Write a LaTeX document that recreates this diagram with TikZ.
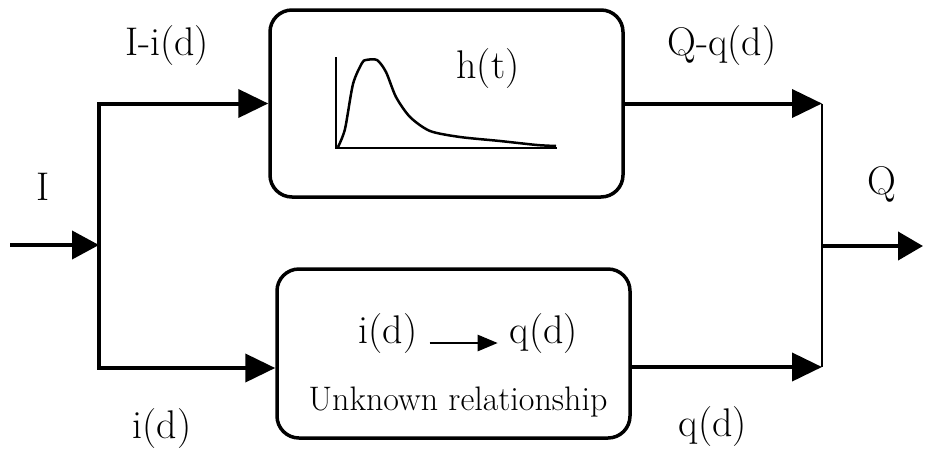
\documentclass[tikz,border=0pt]{standalone}
\usetikzlibrary{arrows.meta}
\begin{document}
\begin{tikzpicture}[x=1pt,y=-1pt,
  lbl/.style={font=\fontsize{40}{44}\selectfont, inner sep=0pt, anchor=base},
  blk/.style={draw, line width=3.5pt, rounded corners=22pt},
  wire/.style={line width=4pt, -{Triangle[length=30pt,width=28pt]}},
  thinwire/.style={line width=2pt},
  curve/.style={line width=2.5pt, line join=round}]
\useasboundingbox (0,0) rectangle (925,456);

% blocks
\node[blk, minimum width=353pt, minimum height=187pt] (hbox) at (446.5,103.5) {};
\node[blk, minimum width=353pt, minimum height=169pt] (ubox) at (453.5,353.5) {};

% coordinates for free ends / junctions
\coordinate (in) at (10,245);
\coordinate (j1) at (99,245);
\coordinate (j2) at (822,246);
\coordinate (out) at (923,246);
\coordinate (ubin) at ([yshift=-14.5pt]ubox.west);
\coordinate (ubout) at ([yshift=-13.5pt]ubox.east);

% input
\draw[wire, -{Triangle[length=27pt,width=28pt]}] (in) -- (j1);
\draw[wire] (j1) |- (hbox.west);
\draw[wire] (j1) |- (ubin);

% outputs
\draw[wire] (hbox.east) -- (hbox.east -| j2);
\draw[wire] (ubout) -- (ubout -| j2);
\draw[thinwire] (hbox.east -| j2) -- (ubout -| j2);
\draw[wire, -{Triangle[length=25pt,width=28pt]}] (j2) -- (out);

% unit hydrograph plot
\draw[line width=2pt] (336,57) -- (336,148) -- (557,148);
\draw[curve] plot[smooth, tension=0.45] coordinates {(338,147) (345,129) (353,84) (362,63) (366,60) (377,60) (386,72) (396,97) (410,117) (430,131) (460,137) (500,141) (537,145) (556,146)};

% labels
\node[lbl] (l1) at (167,55) {I-i(d)};
\node[lbl] (l2) at (722,55) {Q-q(d)};
\node[lbl] (ht) at (488,78) {h(t)};
\node[lbl] (li) at (43,200) {I};
\node[lbl] (lq) at (882,194) {Q};
\node[lbl] (l3) at (162,438) {i(d)};
\node[lbl] (l4) at (713,436) {q(d)};

% inside lower block
\node[lbl] (id) at (388,343) {i(d)};
\node[lbl] (qd) at (544,343) {q(d)};
\draw[line width=2.5pt, -{Triangle[length=20pt,width=16pt]}, shorten <=12pt, shorten >=12pt] (id.base east) -- (qd.base west);
\node[lbl, font=\fontsize{34}{38}\selectfont] (ur) at (458,410) {Unknown relationship};
\end{tikzpicture}
\end{document}
